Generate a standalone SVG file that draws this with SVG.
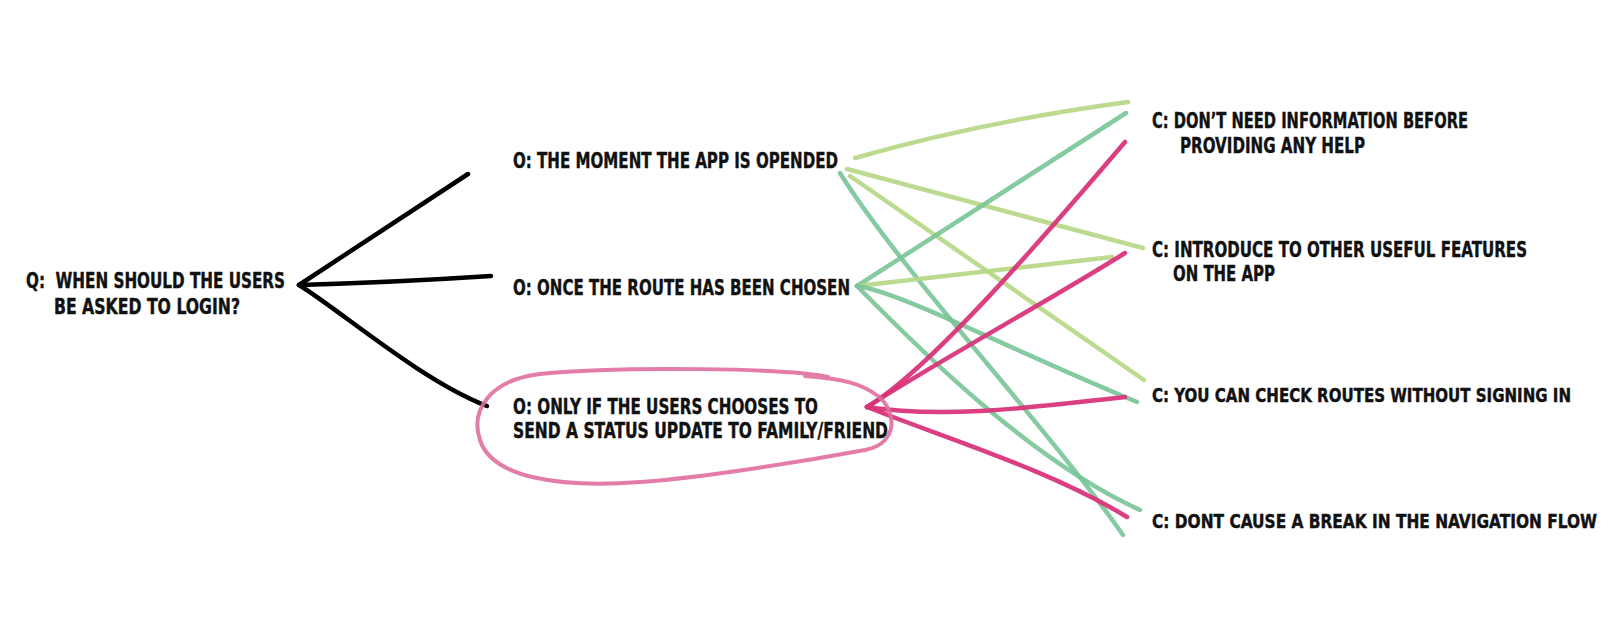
<svg xmlns="http://www.w3.org/2000/svg" width="1624" height="620" viewBox="0 0 1624 620">
<style>
.t{font-family:"Liberation Sans Narrow","DejaVu Sans Condensed","Liberation Sans",sans-serif;font-stretch:condensed;font-weight:bold;font-size:21px;fill:#111;stroke:#111;stroke-width:0.4;white-space:pre}
.s{font-size:19px}
.bk{fill:none;stroke:#000;stroke-width:4.5;stroke-linecap:round}
.lg{fill:none;stroke:#b5d784;stroke-width:4.5;stroke-linecap:round;opacity:0.9}
.dg{fill:none;stroke:#79c497;stroke-width:4.5;stroke-linecap:round;opacity:0.9}
.pk{fill:none;stroke:#d9357a;stroke-width:4.5;stroke-linecap:round;opacity:0.95}
.el{fill:none;stroke:#e06f9d;stroke-width:4;stroke-linecap:round;opacity:0.9}
</style>
<rect width="1624" height="620" fill="#fff"/>
<g id="connectors">
<path class="bk" d="M299,285 L468,174"/>
<path class="bk" d="M299,285 Q400,282 491,276"/>
<path class="bk" d="M299,285 C340,310 420,380 487,406"/>
<path class="lg" d="M855,158 Q980,122 1128,102"/>
<path class="lg" d="M847,169 L1143,248"/>
<path class="lg" d="M850,176 L1144,380"/>
<path class="dg" d="M840,173 C900,270 1050,430 1123,535"/>
<path class="dg" d="M857,286 L1126,113"/>
<path class="lg" d="M857,286 L1112,257"/>
<path class="dg" d="M857,286 C900,292 1000,345 1137,402"/>
<path class="dg" d="M857,286 C920,350 1030,460 1140,510"/>
<path class="pk" d="M867,407 C930,370 1050,230 1125,142"/>
<path class="pk" d="M867,407 C940,360 1050,300 1125,253"/>
<path class="pk" d="M867,407 C950,420 1050,405 1125,397"/>
<path class="pk" d="M867,407 C950,440 1050,470 1127,517"/>
</g>
<g id="q">
<text class="t" x="26" y="288" textLength="259" lengthAdjust="spacingAndGlyphs">Q:  WHEN SHOULD THE USERS</text>
<text class="t" x="54" y="314" textLength="186" lengthAdjust="spacingAndGlyphs">BE ASKED TO LOGIN?</text>
</g>
<g id="o1">
<text class="t" x="513" y="168" textLength="325" lengthAdjust="spacingAndGlyphs">O: THE MOMENT THE APP IS OPENDED</text>
</g>
<g id="o2">
<text class="t" x="513" y="295" textLength="337" lengthAdjust="spacingAndGlyphs">O: ONCE THE ROUTE HAS BEEN CHOSEN</text>
</g>
<g id="o3">
<path class="el" d="M828,377 C790,368 620,366 540,374 C490,380 470,410 480,440 C492,478 560,488 640,482 C700,478 800,462 865,450 C900,443 896,410 878,396 C862,384 845,379 805,376"/>
<text class="t" x="513" y="414" textLength="305" lengthAdjust="spacingAndGlyphs">O: ONLY IF THE USERS CHOOSES TO</text>
<text class="t" x="513" y="438" textLength="375" lengthAdjust="spacingAndGlyphs">SEND A STATUS UPDATE TO FAMILY/FRIEND</text>
</g>
<g id="c1">
<text class="t" x="1152" y="128" textLength="316" lengthAdjust="spacingAndGlyphs">C: DON’T NEED INFORMATION BEFORE</text>
<text class="t" x="1180" y="153" textLength="185" lengthAdjust="spacingAndGlyphs">PROVIDING ANY HELP</text>
</g>
<g id="c2">
<text class="t" x="1152" y="257" textLength="375" lengthAdjust="spacingAndGlyphs">C: INTRODUCE TO OTHER USEFUL FEATURES</text>
<text class="t" x="1173" y="281" textLength="102" lengthAdjust="spacingAndGlyphs">ON THE APP</text>
</g>
<g id="c3">
<text class="t s" x="1152" y="402" textLength="419" lengthAdjust="spacingAndGlyphs">C: YOU CAN CHECK ROUTES WITHOUT SIGNING IN</text>
</g>
<g id="c4">
<text class="t s" x="1152" y="528" textLength="445" lengthAdjust="spacingAndGlyphs">C: DONT CAUSE A BREAK IN THE NAVIGATION FLOW</text>
</g>
</svg>
